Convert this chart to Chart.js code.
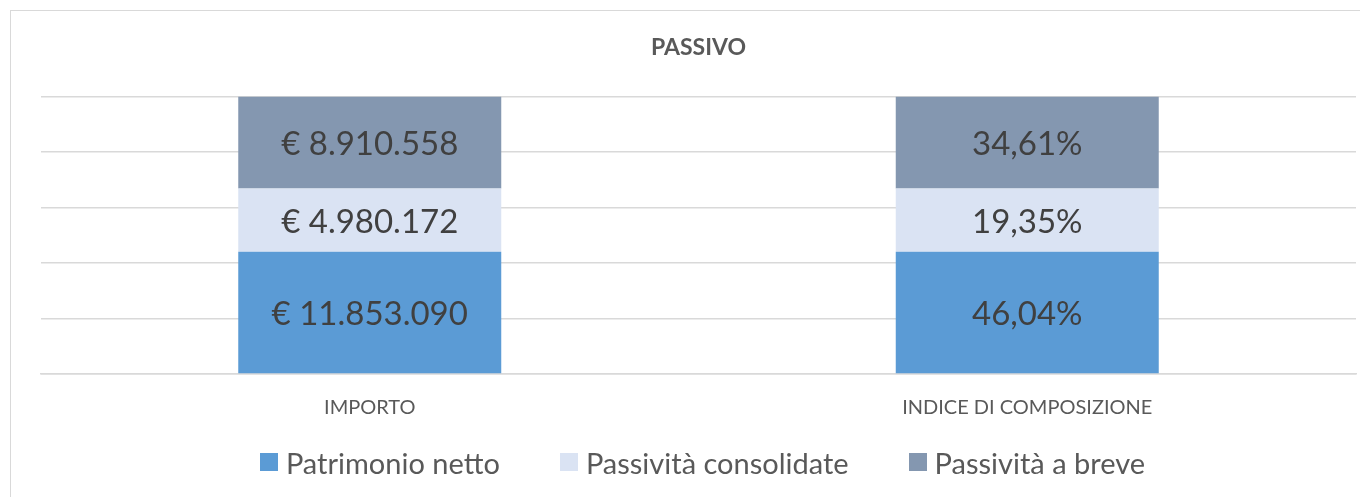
<!DOCTYPE html>
<html lang="it">
<head>
<meta charset="utf-8">
<title>Passivo</title>
<script src="https://cdn.jsdelivr.net/npm/chart.js@4.4.1/dist/chart.umd.min.js"></script>
<style>
  html, body { margin: 0; padding: 0; background: #fff; overflow: hidden; }
  body { width: 1360px; height: 497px; position: relative; font-family: Lato, 'Open Sans', sans-serif; }
  #cornice { position: absolute; left: 10px; top: 10px; width: 1400px; height: 600px; border: 1.5px solid #d9d9d9; }
  #box { position: absolute; left: 0; top: 0; width: 1360px; height: 497px; }
  #legenda { position: absolute; left: 45px; width: 1315px; top: 444px; height: 36px;
    display: flex; justify-content: center; align-items: center; gap: 60px;
    font-size: 29px; color: #595959; }
  #legenda span.voce { display: flex; align-items: center; gap: 8px; white-space: nowrap; }
  #legenda i { display: inline-block; width: 18px; height: 18px; }
</style>
</head>
<body>
<div id="cornice"></div>
<div id="box"><canvas id="grafico"></canvas></div>
<div id="legenda"></div>

<script>
// ── Dati ──────────────────────────────────────────────
const categorie = ['IMPORTO', 'INDICE DI COMPOSIZIONE']
const serie     = ['Patrimonio netto', 'Passività consolidate', 'Passività a breve']
const colori    = ['#5b9bd5', '#dae3f3', '#8497b0']

// valori riportati nelle etichette
const importi = [11853090, 4980172, 8910558]
const indici  = [46.04, 19.35, 34.61]

// altezza delle colonne (quota su 100)
const quotaPatrimonio  = [44.1, 44.1]
const quotaConsolidate = [22.8, 22.8]
const quotaBreve       = [33.1, 33.1]

const euro = n => '€ ' + String(n).replace(/\B(?=(\d{3})+(?!\d))/g, '.')
const perc = v => v.toFixed(2).replace('.', ',') + '%'

// etichette dentro le colonne
const etichette = {
  id: 'etichette',
  afterDatasetsDraw(chart) {
    const ctx = chart.ctx
    ctx.save()
    ctx.font = '33px Lato'
    ctx.fillStyle = '#404040'
    ctx.textAlign = 'center'
    ctx.textBaseline = 'middle'
    chart.data.datasets.forEach((ds, di) => {
      chart.getDatasetMeta(di).data.forEach((bar, i) => {
        const p = bar.getCenterPoint()
        const txt = i === 0 ? euro(importi[di]) : perc(indici[di])
        ctx.fillText(txt, p.x, p.y + 2)
      })
    })
    ctx.restore()
  }
}

const quote = [quotaPatrimonio, quotaConsolidate, quotaBreve]

/* global Chart */
new Chart(document.getElementById('grafico'), {
  type: 'bar',
  data: {
    labels: categorie,
    datasets: serie.map((s, i) => ({
      label: s,
      data: quote[i],
      backgroundColor: colori[i],
      borderWidth: 0,
      categoryPercentage: 1,
      barPercentage: 0.4,
    }))
  },
  options: {
    responsive: true, maintainAspectRatio: false, animation: false,
    layout: { padding: { left: 41, right: 4, top: 34, bottom: 63 } },
    plugins: {
      legend: { display: false },
      tooltip: { enabled: false },
      title: {
        display: true, text: 'PASSIVO', color: '#595959',
        font: { family: 'Lato', size: 23, weight: 'bold' },
        padding: { top: 0, bottom: 35 }
      }
    },
    scales: {
      x: {
        stacked: true,
        grid: { display: false },
        border: { display: true, color: '#d9d9d9', width: 1.5 },
        ticks: { color: '#595959', padding: 14, font: { family: 'Lato', size: 20 } }
      },
      y: {
        stacked: true, min: 0, max: 100,
        ticks: { display: false, stepSize: 20 },
        grid: { color: '#d9d9d9', lineWidth: 1.5, drawTicks: false },
        border: { display: false }
      }
    }
  },
  plugins: [etichette]
})

document.getElementById('legenda').innerHTML = serie.map((s, i) =>
  `<span class="voce"><i style="background:${colori[i]}"></i>${s}</span>`).join('')
</script>
</body>
</html>
